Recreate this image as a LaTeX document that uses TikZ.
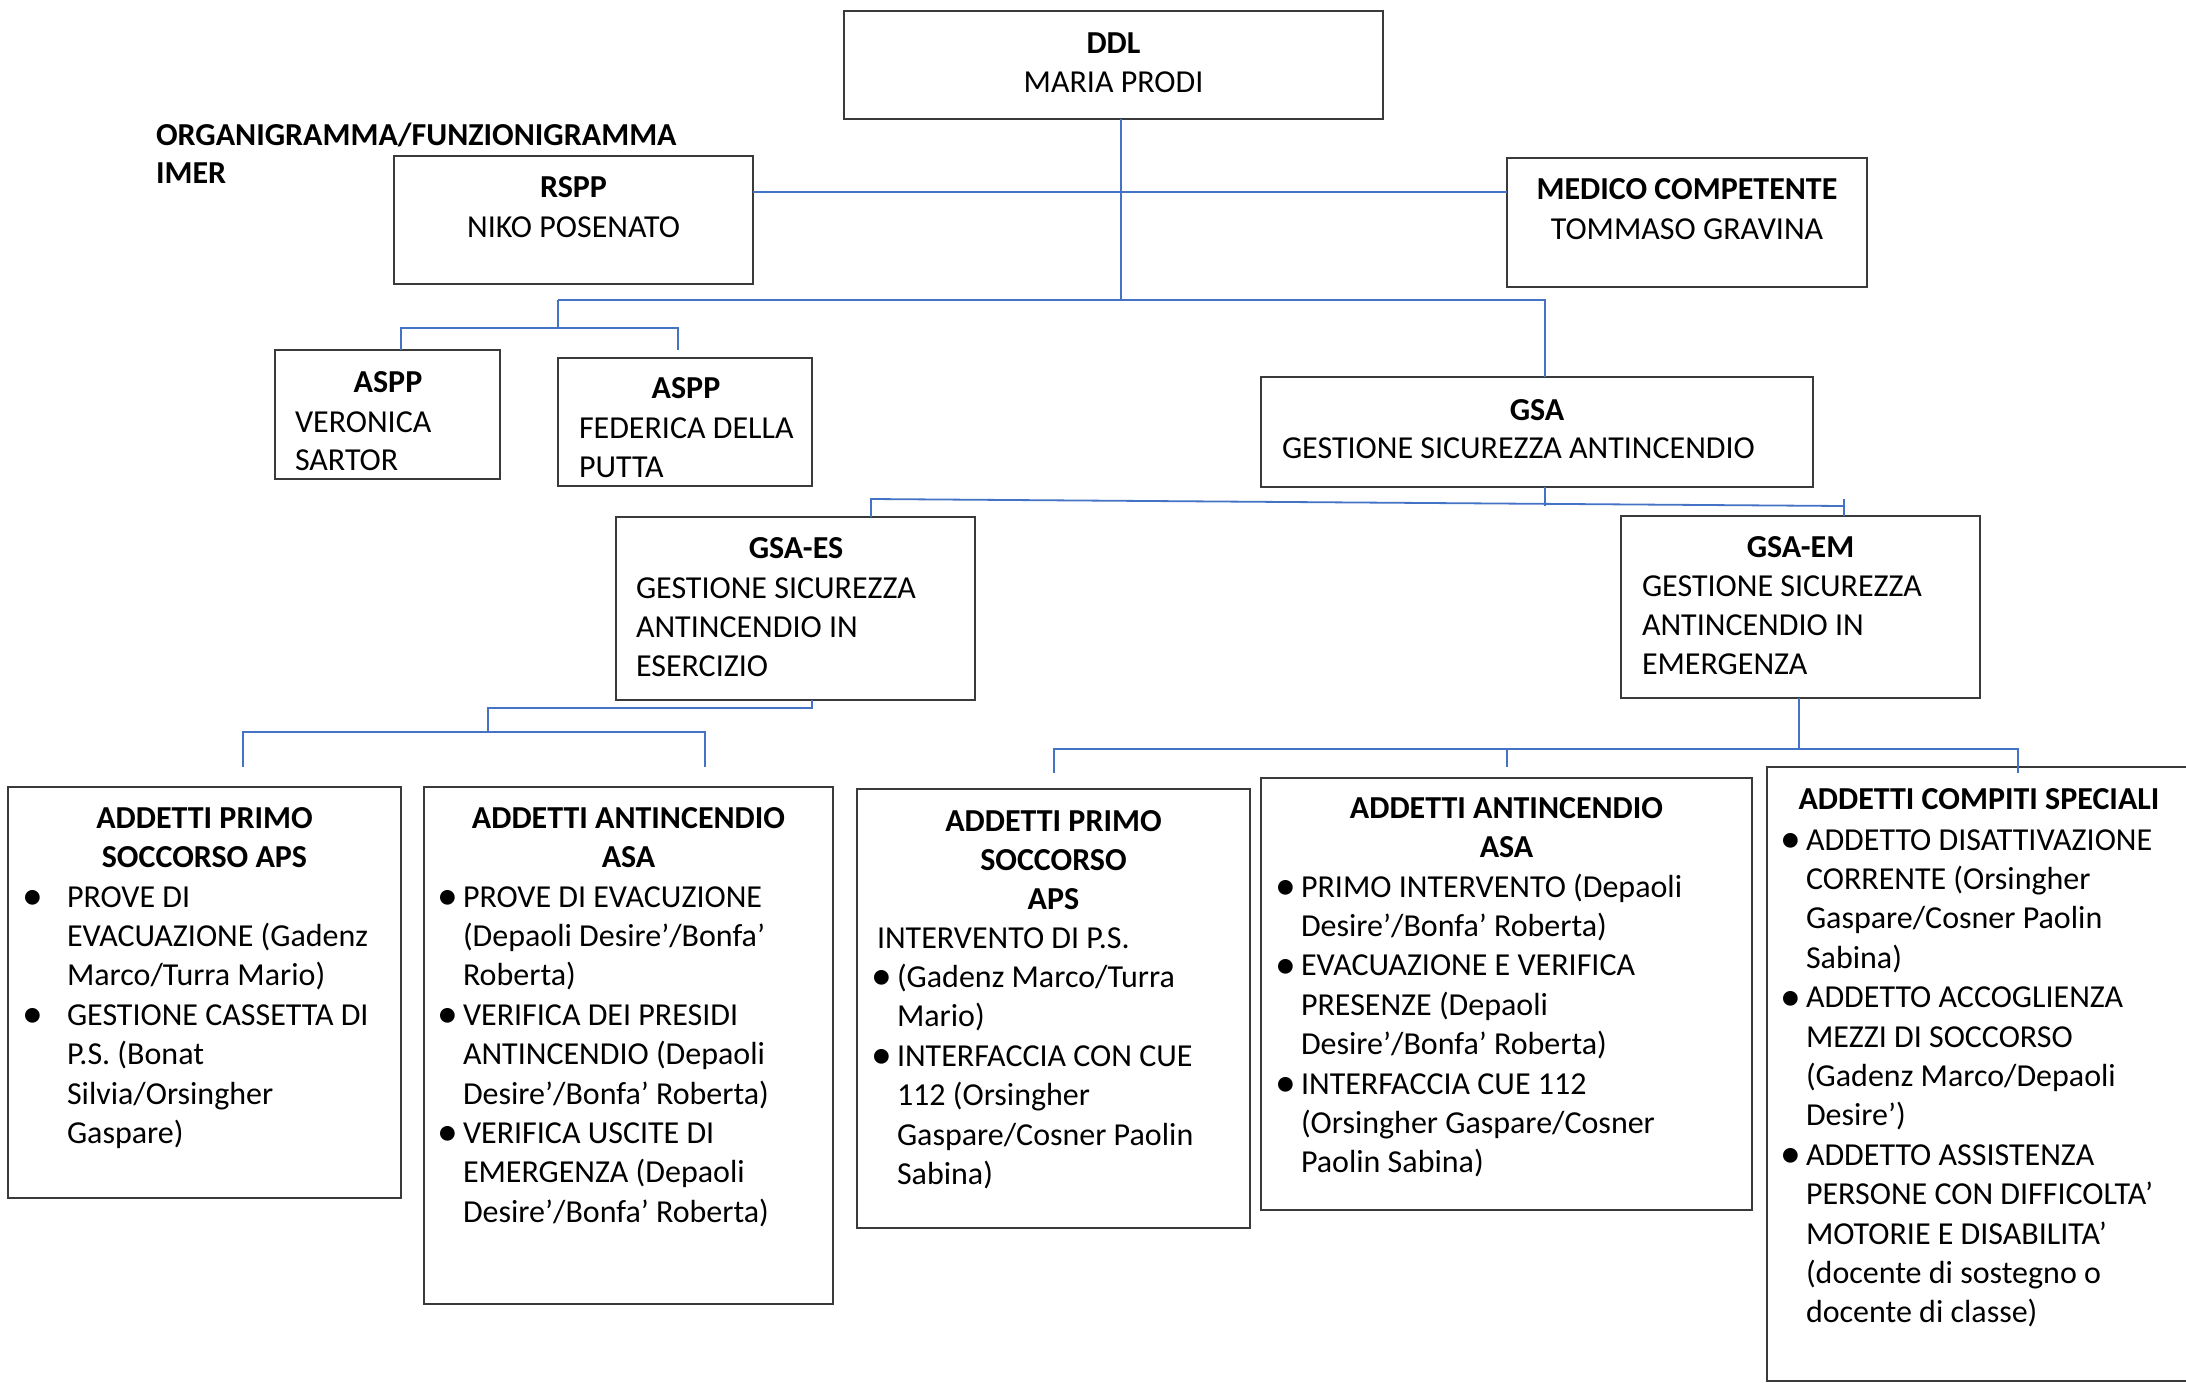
\documentclass[tikz,border=0pt]{standalone}
\usepackage{fontspec}
\setmainfont{Carlito}
\usetikzlibrary{fit}
\definecolor{connblue}{HTML}{4472C4}
\definecolor{boxgray}{HTML}{3A3A3A}
\tikzset{
  box/.style={draw=boxgray, line width=2pt, inner sep=0pt, outer sep=0pt, rectangle},
  conn/.style={draw=connblue, line width=1.8pt},
  txt/.style={inner sep=0pt, outer sep=0pt, font=\fontsize{32}{39.4}\selectfont},
  ttl/.style={inner sep=0pt, outer sep=0pt, font=\fontsize{32}{39.4}\selectfont\bfseries, anchor=base},
  ln/.style={txt, anchor=base west},
}
\newcommand\bulglyph{\raisebox{-2.5pt}{\scalebox{1.3}{•}}}
\newcommand\bul{\llap{\bulglyph\hspace{5pt}}}
\newcommand\bulw{\llap{\bulglyph\hspace{24pt}}}
\begin{document}
\begin{tikzpicture}[x=1pt,y=-1pt]
\path[use as bounding box] (0,0) rectangle (2186,1382);
\clip (0,0) rectangle (2186,1382);
\fill[white] (0,0) rectangle (2186,1382);

% boxes
\node[box, fit={(844,11) (1383,119)}] (ddl) {};
\node[box, fit={(394,156) (753,284)}] (rspp) {};
\node[box, fit={(1507,158) (1867,287)}] (medico) {};
\node[box, fit={(275,350) (500,479)}] (aspp1) {};
\node[box, fit={(558,358) (812,486)}] (aspp2) {};
\node[box, fit={(1261,377) (1813,487)}] (gsa) {};
\node[box, fit={(616,517) (975,700)}] (gsaes) {};
\node[box, fit={(1621,516) (1980,698)}] (gsaem) {};
\node[box, fit={(8,787) (401,1198)}] (aps1) {};
\node[box, fit={(424,787) (833,1304)}] (asa1) {};
\node[box, fit={(857,789) (1250,1228)}] (aps2) {};
\node[box, fit={(1261,778) (1752,1210)}] (asa2) {};
\node[box, fit={(1767,767) (2220,1381)}] (acs) {};

% title
\node[ttl, anchor=base west] (t1) at (156,145) {ORGANIGRAMMA/FUNZIONIGRAMMA};
\node[ttl, anchor=base west] (t2) at (156,183) {IMER};

% DDL
\node[ttl] (ddlT) at (1113.5,53) {DDL};
\node[txt, anchor=base] (ddlN) at (1113.5,92) {MARIA PRODI};
% RSPP
\node[ttl] (rsppT) at (573.5,197) {RSPP};
\node[txt, anchor=base] (rsppN) at (573.5,237) {NIKO POSENATO};
% Medico
\node[ttl] (medT) at (1687,199) {MEDICO COMPETENTE};
\node[txt, anchor=base] (medN) at (1687,239) {TOMMASO GRAVINA};
% ASPP 1
\node[ttl] (a1T) at (388,392) {ASPP};
\node[ln] (a1N1) at (295,432) {VERONICA};
\node[ln] (a1N2) at (295,470) {SARTOR};
% ASPP 2
\node[ttl] (a2T) at (686,398) {ASPP};
\node[ln] (a2N1) at (579,438) {FEDERICA DELLA};
\node[ln] (a2N2) at (579,477) {PUTTA};
% GSA
\node[ttl] (gsaT) at (1537,420) {GSA};
\node[ln] (gsaN) at (1282,458) {GESTIONE SICUREZZA ANTINCENDIO};
% GSA-ES
\node[ttl] (esT) at (796,558) {GSA-ES};
\foreach \t [count=\i from 0] in {{GESTIONE SICUREZZA}, {ANTINCENDIO IN}, {ESERCIZIO}}
  \node[ln] (es\i) at (636,598+\i*39) {\t};
% GSA-EM
\node[ttl] (emT) at (1800.5,557) {GSA-EM};
\foreach \t [count=\i from 0] in {{GESTIONE SICUREZZA}, {ANTINCENDIO IN}, {EMERGENZA}}
  \node[ln] (em\i) at (1642,596+\i*39) {\t};

% Box A
\node[ttl] (apsAT1) at (204.5,828) {ADDETTI PRIMO};
\node[ttl] (apsAT2) at (204.5,867.4) {SOCCORSO APS};
\foreach \t [count=\i from 0] in {{\bulw PROVE DI}, {EVACUAZIONE (Gadenz}, {Marco/Turra Mario)}, {\bulw GESTIONE CASSETTA DI}, {P.S. (Bonat}, {Silvia/Orsingher}, {Gaspare)}}
  \node[ln] (apsA\i) at (67,907+\i*39.4) {\t};

% Box B
\node[ttl] (asaBT1) at (628.5,828) {ADDETTI ANTINCENDIO};
\node[ttl] (asaBT2) at (628.5,867.4) {ASA};
\foreach \t [count=\i from 0] in {{\bul PROVE DI EVACUZIONE}, {(Depaoli Desire’/Bonfa’}, {Roberta)}, {\bul VERIFICA DEI PRESIDI}, {ANTINCENDIO (Depaoli}, {Desire’/Bonfa’ Roberta)}, {\bul VERIFICA USCITE DI}, {EMERGENZA (Depaoli}, {Desire’/Bonfa’ Roberta)}}
  \node[ln] (asaB\i) at (463,907+\i*39.4) {\t};

% Box C
\node[ttl] (apsCT1) at (1053.5,831) {ADDETTI PRIMO};
\node[ttl] (apsCT2) at (1053.5,870) {SOCCORSO};
\node[ttl] (apsCT3) at (1053.5,909) {APS};
\node[ln] (apsCI) at (877,948) {INTERVENTO DI P.S.};
\foreach \t [count=\i from 0] in {{\bul (Gadenz Marco/Turra}, {Mario)}, {\bul INTERFACCIA CON CUE}, {112 (Orsingher}, {Gaspare/Cosner Paolin}, {Sabina)}}
  \node[ln] (apsC\i) at (897,987.4+\i*39.4) {\t};

% Box D
\node[ttl] (asaDT1) at (1506.5,818) {ADDETTI ANTINCENDIO};
\node[ttl] (asaDT2) at (1506.5,857.4) {ASA};
\foreach \t [count=\i from 0] in {{\bul PRIMO INTERVENTO (Depaoli}, {Desire’/Bonfa’ Roberta)}, {\bul EVACUAZIONE E VERIFICA}, {PRESENZE (Depaoli}, {Desire’/Bonfa’ Roberta)}, {\bul INTERFACCIA CUE 112}, {(Orsingher Gaspare/Cosner}, {Paolin Sabina)}}
  \node[ln] (asaD\i) at (1301,897+\i*39.4) {\t};

% Box E
\node[ttl] (acsT) at (1979,809) {ADDETTI COMPITI SPECIALI};
\foreach \t [count=\i from 0] in {{\bul ADDETTO DISATTIVAZIONE}, {CORRENTE (Orsingher}, {Gaspare/Cosner Paolin}, {Sabina)}, {\bul ADDETTO ACCOGLIENZA}, {MEZZI DI SOCCORSO}, {(Gadenz Marco/Depaoli}, {Desire’)}, {\bul ADDETTO ASSISTENZA}, {PERSONE CON DIFFICOLTA’}, {MOTORIE E DISABILITA’}, {(docente di sostegno o}, {docente di classe)}}
  \node[ln] (acs\i) at (1806,850+\i*39.4) {\t};

% connectors
\coordinate (j0) at (1121,300);
\draw[conn] (ddl.south -| j0) -- (j0);
\coordinate (h0) at (1121,192);
\draw[conn] (rspp.east |- h0) -- (medico.west |- h0);
\coordinate (j1) at (558,300);
\coordinate (j2) at (1545,300);
\draw[conn] (j1) -- (j2) -- (gsa.north -| j2);
\coordinate (k0) at (558,328);
\coordinate (k1) at (401,328);
\coordinate (k2) at (678,328);
\coordinate (k3) at (678,350);
\draw[conn] (j1) -- (k0);
\draw[conn] (aspp1.north -| k1) -- (k1) -- (k2) -- (k3);
\coordinate (g0) at (1545,506);
\draw[conn] (gsa.south -| g0) -- (g0);
\coordinate (s1) at (871,499);
\coordinate (s2) at (1844,506);
\coordinate (s3) at (1844,499);
\draw[conn] (gsaes.north -| s1) -- (s1) -- (s2);
\draw[conn] (s3) -- (gsaem.north -| s3);
\coordinate (e0) at (812,708);
\coordinate (e1) at (488,708);
\coordinate (e2) at (488,732);
\draw[conn] (gsaes.south -| e0) -- (e0) -- (e1) -- (e2);
\coordinate (f1) at (243,732);
\coordinate (f2) at (705,732);
\coordinate (f3) at (243,767);
\coordinate (f4) at (705,767);
\draw[conn] (f3) -- (f1) -- (f2) -- (f4);
\coordinate (m0) at (1799,749);
\draw[conn] (gsaem.south -| m0) -- (m0);
\coordinate (m1) at (1054,749);
\coordinate (m2) at (2018,749);
\coordinate (m3) at (1054,773);
\coordinate (m4) at (1507,749);
\coordinate (m5) at (1507,767);
\coordinate (m6) at (2018,773);
\draw[conn] (m3) -- (m1) -- (m2) -- (m6);
\draw[conn] (m4) -- (m5);
\end{tikzpicture}
\end{document}
